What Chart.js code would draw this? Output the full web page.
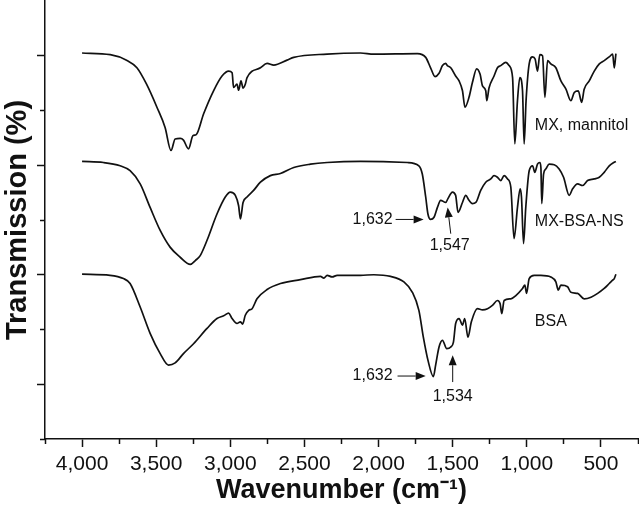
<!DOCTYPE html>
<html>
<head>
<meta charset="utf-8">
<script src="https://cdn.jsdelivr.net/npm/chart.js@4/dist/chart.umd.min.js"></script>
<style>
  html, body { margin: 0; padding: 0; background: #fff; }
</style>
</head>
<body>
<canvas id="ftir" width="639" height="516"></canvas>
<script>
// FTIR spectra, wavenumber (cm-1) and stacked transmission (arbitrary units)
const mxWn = [4000,3810,3700,3630,3565,3495,3440,3400,3372,3338, 3316,3282,3252,3230,3180,3113,3056,3011,2988,2978,
  2955,2944,2928,2914,2899,2887,2797,2752,2707,2617, 2572,2347,2122,2032,1738,1682,1649,1619,1592,1569,
  1547,1536,1513,1480,1457,1434,1417,1390,1367,1338, 1315,1299,1277,1270,1255,1221,1198,1176,1142,1119,
  1096,1081,1063,1047,1029,1018,1005,984,961,944, 928,912,894,878,860,838,804,770,736,703,
  680,653,630,613,579,545,511,478,444,421, 410,399];
const mxT = [6.05,6.02,5.92,5.78,5.48,5.06,4.69,4.27,4.48,4.49, 4.46,4.30,4.54,4.56,4.94,5.36,5.63,5.72,5.69,5.42,
  5.48,5.37,5.54,5.41,5.48,5.60,5.78,5.86,5.83,5.92, 5.97,6.03,6.05,6.03,6.04,5.97,5.78,5.62,5.68,5.82,
  5.86,5.82,5.78,5.63,5.54,5.36,5.06,5.24,5.51,5.76, 5.66,5.45,5.36,5.18,5.41,5.63,5.78,5.82,5.88,5.82,
  5.60,4.39,5.18,5.60,5.36,4.39,5.18,5.85,5.98,5.94, 5.72,6.02,6.00,5.24,5.91,5.85,5.78,5.54,5.39,5.18,
  5.33,5.36,5.15,5.39,5.54,5.72,5.85,5.91,5.98,6.03, 5.78,6.04];

const nsWn = [4000,3856,3743,3676,3608,3541,3473,3405,3338,3270, 3236,3203,3157,3090,3034,3000,2966,2944,2932,2914,
  2887,2843,2797,2730,2662,2572,2459,2347,2122,1806, 1728,1705,1682,1667,1649,1626,1603,1581,1547,1532,
  1502,1480,1464,1434,1412,1390,1367,1344,1311,1277, 1243,1221,1198,1176,1153,1130,1108,1086,1063,1045,
  1036,1022,1007,984,961,946,928,912,905,899, 887,872,849,815,782,752,714,691,657,624,
  590,545,511,478,444,414,399];
const nsT = [4.07,4.05,3.99,3.90,3.66,3.23,2.81,2.50,2.32,2.19, 2.26,2.35,2.63,3.11,3.42,3.51,3.45,3.26,3.02,3.32,
  3.42,3.54,3.69,3.81,3.85,3.96,4.02,4.05,4.07,4.05, 3.99,3.84,3.42,3.11,3.01,3.05,3.23,3.36,3.32,3.39,
  3.51,3.45,3.14,3.32,3.45,3.36,3.30,3.32,3.54,3.69, 3.75,3.81,3.78,3.72,3.81,3.75,3.60,2.66,3.23,3.57,
  3.42,2.57,3.23,3.90,3.99,3.87,4.02,4.05,3.96,3.30, 3.84,3.93,4.02,4.01,3.93,3.78,3.45,3.57,3.66,3.63,
  3.72,3.75,3.78,3.87,3.99,4.05,4.07];

const bsaWn = [4000,3811,3721,3676,3608,3541,3473,3417,3372,3316, 3248,3157,3090,3045,3011,2988,2955,2932,2917,2899,
  2876,2853,2820,2752,2662,2527,2392,2369,2347,2313, 2279,2122,2032,1919,1829,1772,1728,1698,1667,1630,
  1615,1592,1569,1540,1513,1495,1480,1457,1434,1419, 1397,1374,1333,1299,1265,1232,1198,1180,1169,1153,
  1108,1074,1029,1013,1002,984,950,905,838,804, 788,770,725,703,657,613,567,522,478,444,
  421,410,399];
const bsaT = [2.01,1.99,1.93,1.84,1.41,0.93,0.56,0.35,0.39,0.56, 0.74,1.02,1.20,1.25,1.30,1.20,1.11,1.14,1.10,1.26,
  1.35,1.38,1.56,1.73,1.84,1.91,1.97,1.94,1.99,1.96, 1.99,1.99,2.00,1.97,1.87,1.68,1.35,0.86,0.44,0.14,
  0.35,0.68,0.80,0.65,0.68,0.77,1.11,1.20,1.08,1.20, 0.86,1.14,1.38,1.36,1.38,1.44,1.53,1.47,1.29,1.53,
  1.56,1.62,1.75,1.81,1.66,1.93,1.99,1.99,1.96,1.87, 1.72,1.81,1.78,1.68,1.66,1.56,1.59,1.66,1.75,1.84,
  1.90,1.93,2.01];

// axis ticks
const xTickValues = [4000, 3500, 3000, 2500, 2000, 1500, 1000, 500];
const xMinorTicks = [4250, 3750, 3250, 2750, 2250, 1750, 1250, 750, 250];
const yMajorTicks = [0, 2, 4, 6];
const yMinorTicks = [-1, 1, 3, 5];

// curve names and peak notes
const seriesNames = ['MX, mannitol', 'MX-BSA-NS', 'BSA'];
const seriesNameY = [4.72, 2.97, 1.15];
const seriesNameWn = 946;

const noteLabels = ['1,632', '1,547', '1,632', '1,534'];
const noteTextWn = [1905, 1520, 1905, 1500];
const noteTextY = [3.01, 2.54, 0.15, -0.23];
const noteAlign = ['right', 'center', 'right', 'center'];
const arrowFromWn = [1885, 1513, 1872, 1500];
const arrowFromY = [3.01, 2.75, 0.15, 0.04];
const arrowToWn = [1696, 1534, 1682, 1500];
const arrowToY = [3.01, 3.23, 0.15, 0.53];

const FONT = '"Liberation Sans", Arial, Helvetica, sans-serif';
const INK = '#111';

function toPoints(wn, t) {
  return wn.map((w, i) => ({ x: w, y: t[i] }));
}

function spectrum(wn, t) {
  return {
    data: toPoints(wn, t),
    borderColor: INK,
    borderWidth: 1.7,
    pointRadius: 0,
    cubicInterpolationMode: 'monotone',
    fill: false,
    xAxisID: 'x',
    yAxisID: 'y'
  };
}

const peakNotes = {
  id: 'peakNotes',
  afterDatasetsDraw(chart) {
    const { ctx, scales: { x, y } } = chart;
    ctx.save();
    ctx.fillStyle = INK;
    ctx.strokeStyle = INK;
    ctx.font = '16px ' + FONT;
    ctx.textBaseline = 'middle';

    ctx.textAlign = 'left';
    seriesNames.forEach((name, i) => {
      ctx.fillText(name, x.getPixelForValue(seriesNameWn), y.getPixelForValue(seriesNameY[i]));
    });

    noteLabels.forEach((txt, i) => {
      ctx.textAlign = noteAlign[i];
      ctx.fillText(txt, x.getPixelForValue(noteTextWn[i]), y.getPixelForValue(noteTextY[i]));

      const x1 = x.getPixelForValue(arrowFromWn[i]);
      const y1 = y.getPixelForValue(arrowFromY[i]);
      const x2 = x.getPixelForValue(arrowToWn[i]);
      const y2 = y.getPixelForValue(arrowToY[i]);
      const ang = Math.atan2(y2 - y1, x2 - x1);
      const head = 10, half = 4;
      const bx = x2 - head * Math.cos(ang);
      const by = y2 - head * Math.sin(ang);

      ctx.lineWidth = 1;
      ctx.beginPath();
      ctx.moveTo(x1, y1);
      ctx.lineTo(bx, by);
      ctx.stroke();

      ctx.beginPath();
      ctx.moveTo(x2, y2);
      ctx.lineTo(bx + half * Math.sin(ang), by - half * Math.cos(ang));
      ctx.lineTo(bx - half * Math.sin(ang), by + half * Math.cos(ang));
      ctx.closePath();
      ctx.fill();
    });
    ctx.restore();
  }
};

function setTicks(values) {
  return scale => { scale.ticks = values.map(v => ({ value: v })); };
}

new Chart(document.getElementById('ftir'), {
  type: 'line',
  data: {
    datasets: [spectrum(mxWn, mxT), spectrum(nsWn, nsT), spectrum(bsaWn, bsaT)]
  },
  options: {
    responsive: false,
    animation: false,
    layout: { padding: { top: 1, right: 1, left: 0, bottom: 0 } },
    plugins: { legend: { display: false }, tooltip: { enabled: false } },
    scales: {
      x: {
        type: 'linear',
        position: 'bottom',
        reverse: true,
        min: 250,
        max: 4250,
        weight: 1,
        afterBuildTicks: setTicks(xTickValues),
        afterFit: scale => { scale.height = 77; },
        grid: { drawOnChartArea: false, tickLength: 8, tickColor: INK, tickWidth: 1.5 },
        border: { display: true, color: INK, width: 1.5 },
        ticks: {
          autoSkip: false,
          maxRotation: 0,
          padding: 5,
          color: INK,
          font: { family: FONT, size: 21 },
          callback: v => v.toLocaleString('en-US')
        },
        title: {
          display: true,
          text: 'Wavenumber (cm\u207B\u00B9)',
          color: INK,
          font: { family: FONT, size: 27, weight: 'bold' },
          padding: { top: 0, bottom: 9 }
        }
      },
      xMinor: {
        type: 'linear',
        position: 'bottom',
        reverse: true,
        min: 250,
        max: 4250,
        weight: 0,
        afterBuildTicks: setTicks(xMinorTicks),
        afterFit: scale => { scale.height = 0; },
        grid: { drawOnChartArea: false, tickLength: 5, tickColor: INK, tickWidth: 1.5 },
        border: { display: false },
        ticks: { display: false }
      },
      y: {
        type: 'linear',
        position: 'left',
        min: -1,
        max: 7,
        weight: 1,
        afterBuildTicks: setTicks(yMajorTicks),
        afterFit: scale => { scale.width = 45; },
        grid: { drawOnChartArea: false, tickLength: 8, tickColor: INK, tickWidth: 1.5 },
        border: { display: true, color: INK, width: 1.5 },
        ticks: { display: false },
        title: {
          display: true,
          text: 'Transmission (%)',
          color: INK,
          font: { family: FONT, size: 29, weight: 'bold' },
          padding: { top: 1, bottom: 0 }
        }
      },
      yMinor: {
        type: 'linear',
        position: 'left',
        min: -1,
        max: 7,
        weight: 0,
        afterBuildTicks: setTicks(yMinorTicks),
        afterFit: scale => { scale.width = 0; },
        grid: { drawOnChartArea: false, tickLength: 5, tickColor: INK, tickWidth: 1.5 },
        border: { display: false },
        ticks: { display: false }
      }
    }
  },
  plugins: [peakNotes]
});
</script>
</body>
</html>
